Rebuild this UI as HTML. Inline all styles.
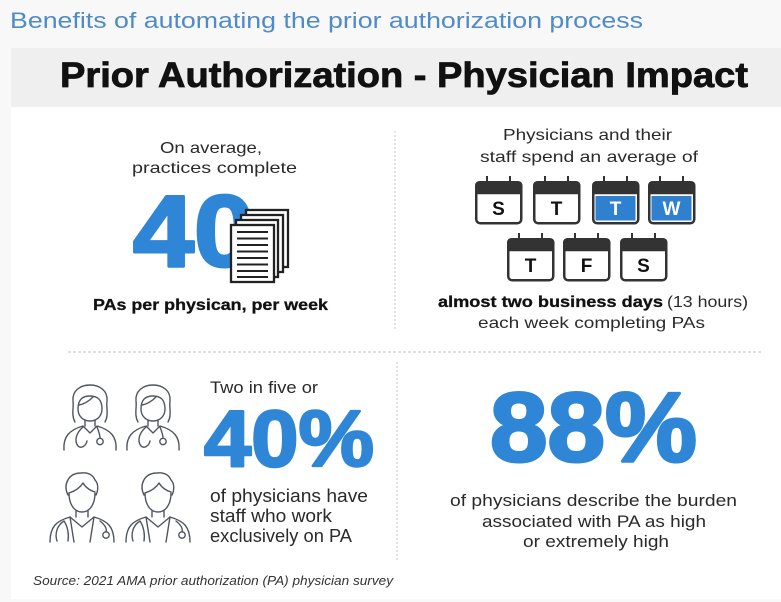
<!DOCTYPE html>
<html><head><meta charset="utf-8"><style>
html,body{margin:0;padding:0;background:#f8f8f8;}
svg{display:block;}
text{font-family:"Liberation Sans",sans-serif;}
</style></head><body>
<svg width="781" height="602" viewBox="0 0 781 602" xmlns="http://www.w3.org/2000/svg">
<rect x="0" y="0" width="781" height="602" fill="#f8f8f8"/>
<rect x="11" y="48" width="770" height="59" fill="#efefef"/>
<rect x="11" y="107" width="770" height="492" fill="#ffffff"/>

<text x="10" y="28" font-size="22" fill="#4f8bc8" textLength="633" lengthAdjust="spacingAndGlyphs">Benefits of automating the prior authorization process</text>
<text x="60" y="87" font-size="35" font-weight="bold" fill="#111" stroke="#111" stroke-width="0.8" textLength="688" lengthAdjust="spacingAndGlyphs">Prior Authorization - Physician Impact</text>

<!-- dividers -->
<line x1="395" y1="131" x2="395" y2="330" stroke="#c8c8c8" stroke-width="1" stroke-dasharray="2,2"/>
<line x1="397" y1="362" x2="397" y2="560" stroke="#c8c8c8" stroke-width="1" stroke-dasharray="2,2"/>
<line x1="68" y1="352" x2="763" y2="352" stroke="#c0c0c0" stroke-width="1" stroke-dasharray="3,2"/>

<!-- top-left -->
<g fill="#2a2a2a" font-size="16">
<text x="160" y="153" textLength="102" lengthAdjust="spacingAndGlyphs">On average,</text>
<text x="132" y="173" textLength="165" lengthAdjust="spacingAndGlyphs">practices complete</text>
</g>
<text x="133" y="266" font-size="101" font-weight="bold" fill="#2f86d6" stroke="#2f86d6" stroke-width="3" stroke-linejoin="round" textLength="122" lengthAdjust="spacingAndGlyphs">40</text>
<g stroke="#222" stroke-width="2.3" fill="#fff">
<rect x="246" y="210" width="42" height="57"/>
<rect x="241" y="215" width="42" height="57"/>
<rect x="236" y="220" width="42" height="57"/>
<rect x="231" y="225" width="43" height="57"/>
</g>
<g stroke="#222" stroke-width="2">
<line x1="237" y1="232" x2="268" y2="232"/>
<line x1="237" y1="238.5" x2="268" y2="238.5"/>
<line x1="237" y1="245" x2="268" y2="245"/>
<line x1="237" y1="251.5" x2="268" y2="251.5"/>
<line x1="237" y1="258" x2="268" y2="258"/>
<line x1="237" y1="264.5" x2="268" y2="264.5"/>
<line x1="237" y1="271" x2="268" y2="271"/>
<line x1="237" y1="277" x2="268" y2="277"/>
</g>
<text x="93" y="310" font-size="16" font-weight="bold" fill="#111" stroke="#111" stroke-width="0.3" textLength="235" lengthAdjust="spacingAndGlyphs">PAs per physican, per week</text>

<!-- top-right -->
<g fill="#2a2a2a" font-size="16">
<text x="503" y="140" textLength="169" lengthAdjust="spacingAndGlyphs">Physicians and their</text>
<text x="480" y="162" textLength="218" lengthAdjust="spacingAndGlyphs">staff spend an average of</text>
</g>

<defs>
<g id="cal">
<line x1="12" y1="-5" x2="12" y2="3" stroke="#333" stroke-width="2"/>
<line x1="35" y1="-5" x2="35" y2="3" stroke="#333" stroke-width="2"/>
<rect x="1.25" y="1.25" width="45" height="41" rx="4" fill="#fff" stroke="#333" stroke-width="2.5"/>
<path d="M1.25,12 L1.25,5 Q1.25,1.25 5,1.25 L42.5,1.25 Q46.25,1.25 46.25,5 L46.25,12 Z" fill="#333" stroke="#333" stroke-width="2.5"/>
</g>
</defs>
<use href="#cal" x="475" y="181"/>
<use href="#cal" x="533" y="181"/>
<use href="#cal" x="592" y="181"/>
<use href="#cal" x="648" y="181"/>
<use href="#cal" x="507" y="238"/>
<use href="#cal" x="563" y="238"/>
<use href="#cal" x="620" y="238"/>
<rect x="595.5" y="196" width="40" height="24.5" fill="#2f80cf"/>
<rect x="651.5" y="196" width="40" height="24.5" fill="#2f80cf"/>
<g font-size="19" font-weight="bold" text-anchor="middle" fill="#111">
<text x="498.5" y="215">S</text>
<text x="556.5" y="215">T</text>
<text x="615.5" y="215" fill="#fff">T</text>
<text x="671.5" y="215" fill="#fff">W</text>
<text x="530.5" y="272">T</text>
<text x="586.5" y="272">F</text>
<text x="643.5" y="272">S</text>
</g>
<text x="438" y="307" font-size="16" font-weight="bold" fill="#111" stroke="#111" stroke-width="0.3" textLength="225" lengthAdjust="spacingAndGlyphs">almost two business days</text>
<text x="667" y="307" font-size="16" fill="#2a2a2a" textLength="81" lengthAdjust="spacingAndGlyphs">(13 hours)</text>
<text x="478" y="328" font-size="16" fill="#2a2a2a" textLength="227" lengthAdjust="spacingAndGlyphs">each week completing PAs</text>

<!-- doctors -->
<defs>
<g id="fem" fill="none" stroke="#505560" stroke-width="1.4" stroke-linecap="round" stroke-linejoin="round">
<path d="M12,37 C8,30 11,22 10,16 C9,6 17,0 27,0 C37,0 45,6 44,16 C43,22 46,30 42,37"/>
<path d="M15,24 C15,14 20,11 27,11 C34,11 39,14 39,24 C39,31 34,36 27,36 C20,36 15,31 15,24 Z"/>
<path d="M16,20 C22,19 26,16 30,12"/>
<path d="M22,35 L22,41 M32,35 L32,41"/>
<path d="M1,65 C0,52 6,45 20,41 L27,48 L34,41 C48,45 54,52 53,65"/>
<path d="M20,42 C13,48 11,56 15,61 C18,64 23,61 24,56"/>
<path d="M34,42 C36,47 37,50 37,53"/>
<circle cx="37" cy="56.5" r="3.2"/>
</g>
<g id="male" fill="none" stroke="#505560" stroke-width="1.4" stroke-linecap="round" stroke-linejoin="round">
<path d="M20,24 C15,14 20,2 33,2 C40,1 45,4 47,9 C51,13 50,20 48,24"/>
<path d="M21,22 C27,20 32,17 35,12 C38,17 43,20 47,21"/>
<path d="M21,22 C21,33 26,41 34,41 C42,41 47,33 47,22"/>
<path d="M28,40 L28,46 M40,40 L40,46"/>
<path d="M2,71 C2,56 8,50 22,46 L34,56 L46,46 C60,50 66,56 66,71"/>
<path d="M22,46 L26,71 M46,46 L42,71"/>
<path d="M16,50 C8,55 7,64 9,70 M16,50 C20,56 21,64 20,70"/>
<path d="M52,50 C57,54 59,58 58,61"/>
<circle cx="58" cy="64" r="3.2"/>
</g>
</defs>
<use href="#fem" x="63" y="385"/>
<use href="#fem" x="126" y="385"/>
<use href="#male" x="48" y="471"/>
<use href="#male" x="124" y="471"/>

<!-- bottom-left text -->
<text x="210" y="393" font-size="17" fill="#2a2a2a" textLength="108" lengthAdjust="spacingAndGlyphs">Two in five or</text>
<text x="204" y="466" font-size="80" font-weight="bold" fill="#2f86d6" stroke="#2f86d6" stroke-width="2.5" stroke-linejoin="round" textLength="170" lengthAdjust="spacingAndGlyphs">40%</text>
<g fill="#2a2a2a" font-size="18">
<text x="210" y="502" textLength="158" lengthAdjust="spacingAndGlyphs">of physicians have</text>
<text x="210" y="522" textLength="122" lengthAdjust="spacingAndGlyphs">staff who work</text>
<text x="210" y="542" textLength="142" lengthAdjust="spacingAndGlyphs">exclusively on PA</text>
</g>
<text x="33" y="585" font-size="13" font-style="italic" fill="#333" textLength="360" lengthAdjust="spacingAndGlyphs">Source: 2021 AMA prior authorization (PA) physician survey</text>

<!-- bottom-right -->
<text x="490" y="461" font-size="98" font-weight="bold" fill="#2f86d6" stroke="#2f86d6" stroke-width="3" stroke-linejoin="round" textLength="207" lengthAdjust="spacingAndGlyphs">88%</text>
<g fill="#2a2a2a" font-size="17">
<text x="450" y="506" textLength="287" lengthAdjust="spacingAndGlyphs">of physicians describe the burden</text>
<text x="482" y="527" textLength="224" lengthAdjust="spacingAndGlyphs">associated with PA as high</text>
<text x="523" y="547" textLength="146" lengthAdjust="spacingAndGlyphs">or extremely high</text>
</g>
</svg>
</body></html>
